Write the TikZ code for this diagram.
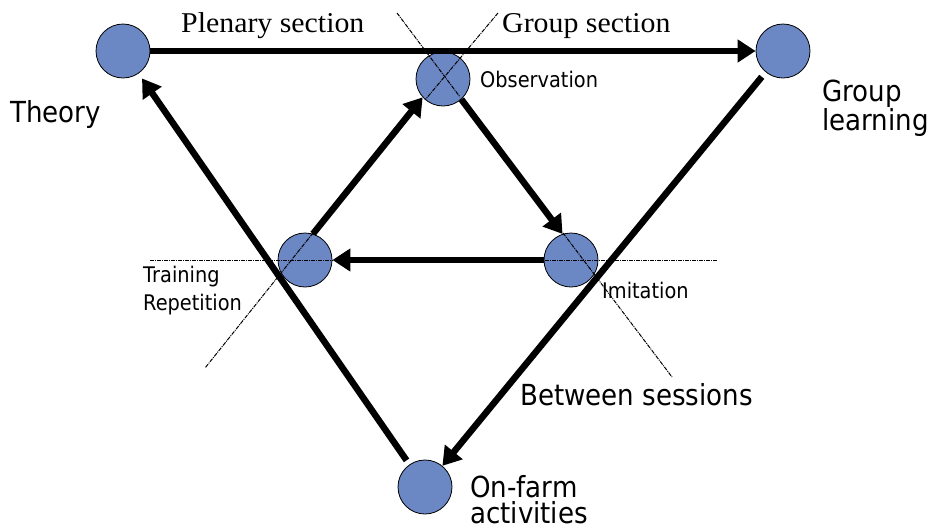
\documentclass[tikz,border=0pt]{standalone}
\usepackage{fontspec}
\usetikzlibrary{arrows.meta}
\newfontfamily\sansf[FakeStretch=0.9]{DejaVu Sans}
\newfontfamily\seriff[FakeStretch=1.04]{Liberation Serif}
\definecolor{nodeblue}{RGB}{107,135,196}
\tikzset{
  dot/.style={circle, draw=black, line width=0.8pt, fill=nodeblue, minimum size=54pt, inner sep=0pt},
  arr/.style={line width=6.5pt, -{Triangle[length=18pt,width=22pt]}},
  guide/.style={line width=1pt, dash pattern=on 4pt off 1pt on 1pt off 1pt},
  bigtxt/.style={anchor=base west, inner sep=0pt, font=\sansf\fontsize{29}{34}\selectfont},
  smalltxt/.style={anchor=base west, inner sep=0pt, font=\sansf\fontsize{21.5}{25}\selectfont},
  seriftxt/.style={anchor=base west, inner sep=0pt, font=\seriff\fontsize{28.7}{33}\selectfont},
}
\begin{document}
\begin{tikzpicture}[x=1pt,y=-1pt]
\useasboundingbox (0,0) rectangle (928,528);
% nodes
\node[dot] (theory) at (123,51) {};
\node[dot] (obs) at (443,79) {};
\node[dot] (group) at (783,51) {};
\node[dot] (train) at (305,260) {};
\node[dot] (imit) at (571,260) {};
\node[dot] (farm) at (425,487) {};
% arrows
\draw[arr] (theory.east) -- (group.west);
\draw[arr, shorten <=5pt, shorten >=6pt] (farm) -- (theory);
\draw[arr, shorten <=6pt] (group) -- (farm);
\draw[arr] (train.73) -- (obs.222);
\draw[arr] (obs.312) -- (imit.108);
\draw[arr] (imit.west) -- (train.east);
% guide lines
\coordinate (g1a) at (397,13); \coordinate (g1b) at (460,97);
\coordinate (g2a) at (498,13); \coordinate (g2b) at (425,100);
\coordinate (g3a) at (150,260); \coordinate (g3b) at (333,260);
\coordinate (g4a) at (545,260); \coordinate (g4b) at (717,260);
\coordinate (g5a) at (313,233); \coordinate (g5b) at (205,368);
\coordinate (g6a) at (563,233); \coordinate (g6b) at (672,377);
\draw[guide] (g1a) -- (g1b);
\draw[guide] (g2a) -- (g2b);
\draw[guide] (g3a) -- (g3b);
\draw[guide] (g4a) -- (g4b);
\draw[guide] (g5a) -- (g5b);
\draw[guide] (g6a) -- (g6b);
% texts
\node[seriftxt] (plen) at (181,32) {Plenary section};
\node[seriftxt] (grps) at (502,32) {Group section};
\node[bigtxt] (theo) at (10,122) {Theory};
\node[smalltxt] (obst) at (480,87) {Observation};
\node[bigtxt] (grl1) at (822,101) {Group};
\node[bigtxt] (grl2) at (822,130) {learning};
\node[smalltxt] (tr1) at (143,282) {Training};
\node[smalltxt] (tr2) at (143,310) {Repetition};
\node[smalltxt] (imt) at (602,298) {Imitation};
\node[bigtxt] (betw) at (520,405) {Between sessions};
\node[bigtxt, text depth=0pt] (of1) at (470,497) {On-farm};
\node[bigtxt, text depth=0pt, text height=22pt] (of2) at (470,523) {activities};
\end{tikzpicture}
\end{document}
